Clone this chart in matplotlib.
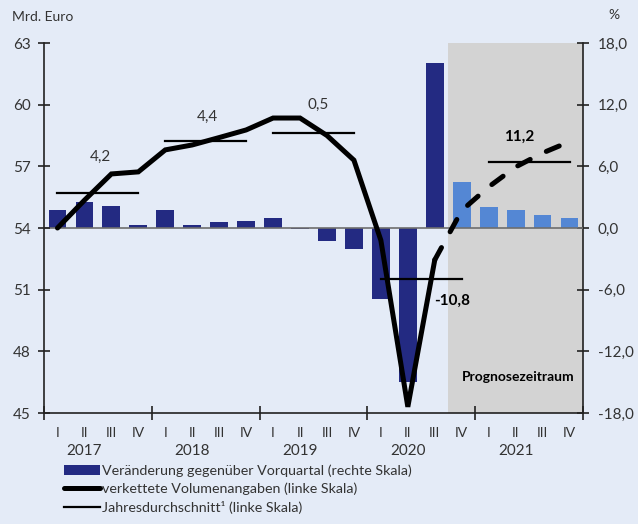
import numpy as np
import matplotlib
matplotlib.use("Agg")
import matplotlib.pyplot as plt
from matplotlib.lines import Line2D
from matplotlib.patches import Patch
import matplotlib.transforms as mtransforms

plt.rcParams['font.family'] = ['Lato', 'DejaVu Sans']

# data
quarters = ["I", "II", "III", "IV"] * 5
years = ["2017", "2018", "2019", "2020", "2021"]
# change vs previous quarter, % (right scale)
change_pct = [1.8, 2.5, 2.1, 0.3, 1.8, 0.25, 0.6, 0.7, 1.0, -0.1,
              -1.3, -2.0, -6.9, -15.0, 16.1, 4.5, 2.0, 1.75, 1.3, 1.0]
# chained volumes, bn euro (left scale)
volume = [54.0, 55.35, 56.63, 56.73, 57.8, 58.04, 58.4, 58.77, 59.35, 59.35,
          58.5, 57.3, 53.4, 45.3, 52.45, 54.85, 56.0, 56.97, 57.65, 58.2]
annual_avg = [55.7, 58.23, 58.6, 51.5, 57.2]
annual_growth = ["4,2", "4,4", "0,5", "-10,8", "11,2"]
n_actual = 15  # 2017Q1 .. 2020Q3 observed, rest forecast

bg = '#e4ebf7'
navy = '#232a82'
light = '#5487d4'
gray_area = '#d3d3d3'

fig = plt.figure(figsize=(6.38, 5.24), dpi=100, facecolor=bg)
ax = fig.add_axes([44/638, 1-413/524, (583-44)/638, 370/524])
ax2 = ax.twinx()
ax.set_zorder(ax2.get_zorder() + 1)
ax.patch.set_visible(False)
ax2.patch.set_visible(False)

x = np.arange(len(quarters))

# forecast shading + bars on right axis
ax2.axvspan(n_actual - 0.5, len(x) - 0.5, color=gray_area, zorder=0, lw=0)
bar_cols = [navy] * n_actual + [light] * (len(x) - n_actual)
ax2.bar(x, change_pct, width=0.66, color=bar_cols, zorder=2)
ax2.axhline(0, color='#6e6e6e', lw=1.2, zorder=3)
ax2.set_ylim(-18, 18)
ax2.set_yticks(np.arange(-18, 19, 6))
ax2.set_yticklabels([f"{v:.1f}".replace('.', ',') for v in np.arange(-18, 19, 6)])

# volume line on left axis
ax.plot(x[:n_actual], volume[:n_actual], color='black', lw=3.6,
        solid_capstyle='round', solid_joinstyle='miter', zorder=5)
ax.plot(x[n_actual-1:], volume[n_actual-1:], color='black', lw=3.6,
        linestyle=(0, (2.8, 3.6)), dash_capstyle='round', zorder=5)

# annual averages
for i, avg in enumerate(annual_avg):
    ax.plot([4*i, 4*i + 3], [avg, avg], color='black', lw=1.6, zorder=4)

label_pos = [(1.58, 57.45), (5.55, 59.4), (9.67, 60.0), (14.63, 50.45), (17.13, 58.43)]
for i, lab in enumerate(annual_growth):
    bold = i >= 3
    ax.text(label_pos[i][0], label_pos[i][1], lab, ha='center', va='center',
            fontsize=11, color='black' if bold else '#333333',
            fontweight='bold' if bold else 'normal', zorder=6)

ax.text(17.1, 46.76, "Prognosezeitraum", ha='center', va='center',
        fontsize=10, fontweight='bold', zorder=6)

ax.set_xlim(-0.5, len(x) - 0.5)
ax.set_ylim(45, 63)
ax.set_yticks(np.arange(45, 64, 3))

# x axis: boundaries as major ticks, quarter names as minor labels
ax.set_xticks(np.arange(-0.5, len(x), 4))
ax.set_xticklabels([])
ax.set_xticks(x, minor=True)
ax.set_xticklabels(quarters, minor=True)
ax.tick_params(axis='x', which='major', direction='inout', length=10, width=1.2, color='#222222')
ax.tick_params(axis='x', which='minor', length=0, pad=10, labelsize=10, labelcolor='#333333')
trans = mtransforms.blended_transform_factory(ax.transData, ax.transAxes)
for i, yr in enumerate(years):
    ax.text(4*i + 1, -0.103, yr, transform=trans, ha='center', va='center',
            fontsize=11, color='#333333')

ax.tick_params(axis='y', direction='inout', length=9, width=1.2, color='#222222',
               labelsize=11, labelcolor='#333333', pad=5)
ax2.tick_params(axis='y', direction='inout', length=9, width=1.2, color='#222222',
                labelsize=11, labelcolor='#333333', pad=6)

for a in (ax, ax2):
    a.spines['top'].set_visible(False)
    for s in ('left', 'right', 'bottom'):
        a.spines[s].set_color('#222222')
        a.spines[s].set_linewidth(1.2)
ax.spines['right'].set_visible(False)
ax2.spines['left'].set_visible(False)
ax2.spines['bottom'].set_visible(False)

fig.text(12/638, 1-17/524, "Mrd. Euro", ha='left', va='center', fontsize=10, color='#333333')
fig.text(614/638, 1-15/524, "%", ha='center', va='center', fontsize=10, color='#333333')

# legend
handles = [
    Patch(facecolor=navy, edgecolor='none'),
    Line2D([], [], color='black', lw=3.6, solid_capstyle='round'),
    Line2D([], [], color='black', lw=1.6),
]
labels = ["Veränderung gegenüber Vorquartal (rechte Skala)",
          "verkettete Volumenangaben (linke Skala)",
          "Jahresdurchschnitt\u00b9 (linke Skala)"]
fig.legend(handles, labels, loc='upper left', bbox_to_anchor=(57/638, 1-457/524),
           frameon=False, fontsize=10.3, handlelength=2.5, handletextpad=0.15,
           labelspacing=0.4, borderpad=0, labelcolor='#333333')

fig.savefig("out.png", dpi=100, facecolor=bg)
